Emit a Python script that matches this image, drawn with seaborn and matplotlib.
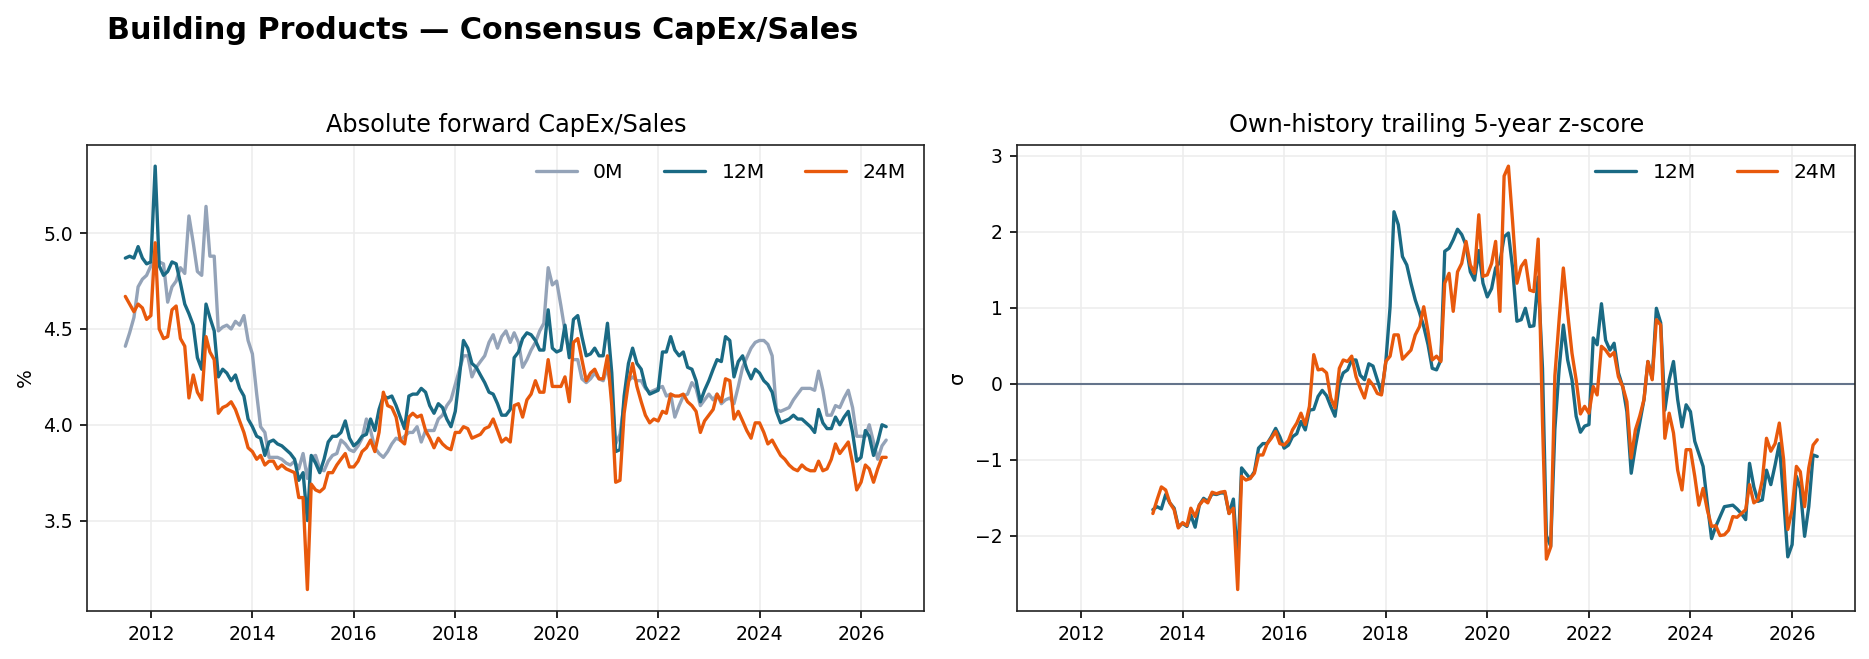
import pandas as pd
import matplotlib
matplotlib.use("Agg")
import matplotlib.pyplot as plt
import matplotlib.dates as mdates
import seaborn as sns

# monthly observations, Jul-2011 .. Jul-2026
dates = pd.date_range("2011-07-01", "2026-07-01", freq="MS")

capex_0m = [
    4.41, 4.48, 4.56, 4.72, 4.76, 4.78, 4.83, 4.85, 4.85, 4.84,
    4.64, 4.72, 4.75, 4.82, 4.79, 5.09, 4.95, 4.80, 4.78, 5.14,
    4.88, 4.88, 4.49, 4.51, 4.52, 4.50, 4.54, 4.52, 4.57, 4.44,
    4.37, 4.16, 3.99, 3.96, 3.83, 3.83, 3.83, 3.82, 3.80, 3.79,
    3.81, 3.77, 3.85, 3.72, 3.83, 3.84, 3.77, 3.76, 3.81, 3.84,
    3.85, 3.92, 3.90, 3.87, 3.86, 3.89, 3.93, 4.03, 3.97, 3.88,
    3.85, 3.83, 3.86, 3.90, 3.93, 3.92, 3.94, 3.96, 3.96, 3.99,
    3.91, 3.97, 3.97, 3.97, 4.03, 4.05, 4.10, 4.13, 4.21, 4.29,
    4.36, 4.36, 4.25, 4.30, 4.33, 4.36, 4.43, 4.47, 4.40, 4.46,
    4.49, 4.43, 4.48, 4.43, 4.30, 4.34, 4.39, 4.43, 4.49, 4.53,
    4.82, 4.73, 4.75, 4.62, 4.49, 4.37, 4.34, 4.34, 4.24, 4.22,
    4.24, 4.27, 4.24, 4.23, 4.30, 4.16, 3.90, 3.95, 4.11, 4.23,
    4.25, 4.23, 4.23, 4.19, 4.17, 4.18, 4.19, 4.20, 4.15, 4.16,
    4.04, 4.10, 4.15, 4.16, 4.22, 4.19, 4.10, 4.13, 4.16, 4.13,
    4.16, 4.11, 4.13, 4.14, 4.11, 4.20, 4.30, 4.35, 4.40, 4.43,
    4.44, 4.44, 4.42, 4.36, 4.08, 4.07, 4.08, 4.09, 4.13, 4.16,
    4.19, 4.19, 4.19, 4.18, 4.28, 4.18, 4.05, 4.05, 4.10, 4.09,
    4.14, 4.18, 4.09, 3.94, 3.94, 3.94, 4.00, 3.91, 3.82, 3.89,
    3.92,
]

capex_12m = [
    4.87, 4.88, 4.87, 4.93, 4.87, 4.84, 4.85, 5.35, 4.83, 4.78,
    4.80, 4.85, 4.84, 4.74, 4.63, 4.58, 4.52, 4.35, 4.29, 4.63,
    4.56, 4.49, 4.25, 4.29, 4.27, 4.23, 4.26, 4.19, 4.15, 4.03,
    3.99, 3.94, 3.93, 3.84, 3.91, 3.92, 3.90, 3.89, 3.87, 3.85,
    3.82, 3.71, 3.75, 3.50, 3.84, 3.80, 3.75, 3.82, 3.91, 3.94,
    3.94, 3.96, 4.02, 3.93, 3.89, 3.91, 3.94, 3.95, 4.03, 3.97,
    4.08, 4.15, 4.14, 4.15, 4.10, 4.04, 3.98, 4.15, 4.16, 4.16,
    4.19, 4.17, 4.10, 4.06, 4.11, 4.09, 4.03, 3.99, 4.07, 4.26,
    4.44, 4.40, 4.32, 4.30, 4.26, 4.22, 4.17, 4.16, 4.11, 4.05,
    4.05, 4.08, 4.35, 4.38, 4.45, 4.48, 4.47, 4.44, 4.39, 4.39,
    4.60, 4.40, 4.38, 4.39, 4.52, 4.35, 4.55, 4.57, 4.46, 4.36,
    4.37, 4.40, 4.36, 4.36, 4.53, 4.27, 3.86, 3.87, 4.15, 4.32,
    4.40, 4.32, 4.29, 4.20, 4.16, 4.17, 4.18, 4.38, 4.38, 4.46,
    4.39, 4.36, 4.38, 4.30, 4.29, 4.23, 4.12, 4.18, 4.23, 4.29,
    4.34, 4.33, 4.46, 4.44, 4.25, 4.33, 4.36, 4.29, 4.24, 4.29,
    4.27, 4.23, 4.21, 4.17, 4.07, 4.01, 4.02, 4.03, 4.05, 4.03,
    4.03, 4.01, 3.99, 3.96, 4.08, 4.01, 3.98, 3.98, 4.04, 4.00,
    4.04, 4.07, 3.96, 3.81, 3.83, 3.97, 3.94, 3.84, 3.91, 4.00,
    3.99,
]

capex_24m = [
    4.67, 4.63, 4.59, 4.63, 4.61, 4.55, 4.57, 4.95, 4.50, 4.45,
    4.46, 4.60, 4.62, 4.45, 4.41, 4.14, 4.26, 4.17, 4.13, 4.46,
    4.38, 4.34, 4.06, 4.09, 4.10, 4.12, 4.08, 4.02, 3.96, 3.88,
    3.86, 3.82, 3.84, 3.79, 3.81, 3.81, 3.77, 3.79, 3.77, 3.76,
    3.75, 3.62, 3.62, 3.14, 3.69, 3.66, 3.65, 3.67, 3.75, 3.75,
    3.79, 3.82, 3.85, 3.78, 3.78, 3.81, 3.86, 3.88, 3.92, 3.86,
    3.96, 4.17, 4.10, 4.09, 4.04, 3.92, 3.90, 4.04, 4.06, 4.04,
    4.05, 3.97, 3.93, 3.88, 3.93, 3.90, 3.88, 3.87, 3.96, 3.96,
    3.99, 3.98, 3.93, 3.94, 3.95, 3.98, 3.99, 4.03, 3.97, 3.91,
    3.93, 3.91, 4.10, 4.11, 4.04, 4.13, 4.16, 4.23, 4.17, 4.17,
    4.34, 4.20, 4.20, 4.20, 4.25, 4.12, 4.43, 4.45, 4.34, 4.23,
    4.27, 4.29, 4.24, 4.24, 4.36, 4.10, 3.70, 3.71, 4.06, 4.22,
    4.32, 4.20, 4.12, 4.05, 4.01, 4.03, 4.02, 4.07, 4.06, 4.16,
    4.15, 4.15, 4.16, 4.12, 4.10, 4.07, 3.96, 4.02, 4.05, 4.08,
    4.16, 4.12, 4.24, 4.23, 4.03, 4.07, 4.02, 3.97, 3.93, 4.01,
    4.01, 3.96, 3.90, 3.92, 3.88, 3.84, 3.82, 3.79, 3.77, 3.76,
    3.79, 3.77, 3.76, 3.76, 3.81, 3.76, 3.77, 3.82, 3.90, 3.85,
    3.88, 3.91, 3.80, 3.66, 3.70, 3.79, 3.77, 3.70, 3.77, 3.83,
    3.83,
]

# z-scores begin once enough history exists (Jun-2013)
z_start = 23
z_12m = [
    -1.66, -1.62, -1.65, -1.46, -1.57, -1.64, -1.88, -1.84, -1.88, -1.73,
    -1.89, -1.60, -1.51, -1.55, -1.45, -1.46, -1.44, -1.44, -1.71, -1.52,
    -2.35, -1.11, -1.18, -1.25, -1.16, -0.85, -0.79, -0.79, -0.70, -0.59,
    -0.70, -0.85, -0.81, -0.70, -0.66, -0.50, -0.61, -0.35, -0.34, -0.17,
    -0.09, -0.16, -0.30, -0.43, 0.00, 0.14, 0.18, 0.31, 0.31, 0.11,
    0.05, 0.26, 0.23, 0.05, -0.13, 0.28, 1.01, 2.26, 2.09, 1.67,
    1.56, 1.32, 1.10, 0.93, 0.75, 0.51, 0.20, 0.18, 0.31, 1.74,
    1.78, 1.89, 2.03, 1.96, 1.82, 1.47, 1.36, 1.75, 1.32, 1.14,
    1.25, 1.52, 1.60, 1.93, 1.98, 1.52, 0.82, 0.84, 0.99, 0.75,
    0.76, 1.40, 0.20, -2.00, -2.14, -0.60, 0.20,
    0.77, 0.31, 0.05, -0.43, -0.64, -0.56, -0.54, 0.60, 0.51, 1.05,
    0.57, 0.44, 0.53, 0.14, -0.04, -0.37, -1.18, -0.83, -0.52, -0.21,
    0.29, 0.07, 0.99, 0.80, -0.35, 0.05, 0.29, -0.21, -0.57, -0.28,
    -0.37, -0.76, -0.92, -1.09, -1.57, -2.04, -1.88, -1.75, -1.62, -1.61,
    -1.60, -1.65, -1.71, -1.79, -1.05, -1.36, -1.55, -1.53, -1.14, -1.33,
    -1.07, -0.79, -1.51, -2.28, -2.12, -1.22, -1.38, -2.01, -1.62, -0.94,
    -0.96,
]

z_24m = [
    -1.71, -1.53, -1.36, -1.40, -1.57, -1.66, -1.90, -1.83, -1.87, -1.64,
    -1.75, -1.60, -1.53, -1.57, -1.43, -1.45, -1.43, -1.42, -1.71, -1.64,
    -2.71, -1.22, -1.27, -1.25, -1.18, -0.94, -0.94, -0.79, -0.72, -0.63,
    -0.79, -0.81, -0.75, -0.61, -0.52, -0.39, -0.54, -0.30, 0.38, 0.18,
    0.19, 0.14, -0.19, -0.32, 0.20, 0.31, 0.29, 0.36, 0.09, -0.06,
    -0.19, 0.05, -0.02, -0.13, -0.15, 0.29, 0.36, 0.64, 0.64, 0.32,
    0.38, 0.44, 0.64, 0.75, 1.01, 0.68, 0.31, 0.36, 0.29, 1.32,
    1.45, 0.95, 1.47, 1.58, 1.87, 1.56, 1.45, 2.22, 1.41, 1.43,
    1.58, 1.87, 0.95, 2.73, 2.86, 2.13, 1.32, 1.54, 1.62, 1.23,
    1.21, 1.90, -0.50, -2.31, -2.15, 0.10, 0.85,
    1.52, 0.93, 0.40, 0.05, -0.40, -0.30, -0.39, -0.04, -0.15, 0.49,
    0.44, 0.36, 0.41, 0.09, -0.04, -0.24, -0.98, -0.61, -0.43, -0.21,
    0.29, 0.05, 0.84, 0.77, -0.72, -0.39, -0.65, -1.14, -1.40, -0.87,
    -0.87, -1.22, -1.60, -1.38, -1.66, -1.88, -1.87, -2.00, -1.99, -1.93,
    -1.75, -1.76, -1.71, -1.66, -1.33, -1.57, -1.53, -1.27, -0.72, -0.89,
    -0.79, -0.52, -1.00, -1.92, -1.66, -1.09, -1.16, -1.62, -1.11, -0.81,
    -0.74,
]

assert len(capex_0m) == len(capex_12m) == len(capex_24m) == len(dates)
assert len(z_12m) == len(z_24m) == len(dates) - z_start

C_0M = "#94a3b8"
C_12M = "#1a6a84"
C_24M = "#e8590c"

sns.set_theme(style="ticks", rc={
    "axes.linewidth": 0.8,
    "axes.edgecolor": "#222222",
    "text.color": "black",
    "axes.labelcolor": "black",
    "xtick.color": "black",
    "ytick.color": "black",
    "xtick.major.width": 0.8,
    "ytick.major.width": 0.8,
    "xtick.major.size": 3.5,
    "ytick.major.size": 3.5,
    "xtick.labelsize": 9,
    "ytick.labelsize": 9,
    "axes.labelsize": 9.5,
    "axes.titlesize": 11.5,
    "legend.fontsize": 9.8,
})
plt.rcParams["font.family"] = ["DejaVu Sans"]

fig = plt.figure(figsize=(1869 / 150, 659 / 150), dpi=150)
ax1 = fig.add_axes([0.0467, 0.0733, 0.4478, 0.7067])
ax2 = fig.add_axes([0.5443, 0.0733, 0.4484, 0.7067])

for vals, col, lab in [(capex_0m, C_0M, "0M"), (capex_12m, C_12M, "12M"), (capex_24m, C_24M, "24M")]:
    sns.lineplot(x=dates, y=vals, ax=ax1, color=col, lw=1.6, label=lab)

zd = dates[z_start:]
ax2.axhline(0, color="#64748b", lw=1.0, zorder=1)
sns.lineplot(x=zd, y=z_12m, ax=ax2, color=C_12M, lw=1.6, label="12M")
sns.lineplot(x=zd, y=z_24m, ax=ax2, color=C_24M, lw=1.6, label="24M")

ax1.set_title("Absolute forward CapEx/Sales")
ax2.set_title("Own-history trailing 5-year z-score")
ax1.set_ylabel("%")
ax2.set_ylabel("σ")
ax1.legend(loc="upper right", ncol=3, frameon=False)
ax2.legend(loc="upper right", ncol=2, frameon=False)

for ax in (ax1, ax2):
    ax.grid(True, color="#ededed", lw=0.8)
    ax.set_axisbelow(True)
    ax.set_xlabel("")
    ax.xaxis.set_major_locator(mdates.YearLocator(2))
    ax.xaxis.set_major_formatter(mdates.DateFormatter("%Y"))
ax2.set_xlim(ax1.get_xlim())

fig.suptitle("Building Products — Consensus CapEx/Sales", x=0.057, y=0.975,
             ha="left", fontsize=14.5, fontweight="bold", color="black")

fig.savefig("out.png", dpi=150)
